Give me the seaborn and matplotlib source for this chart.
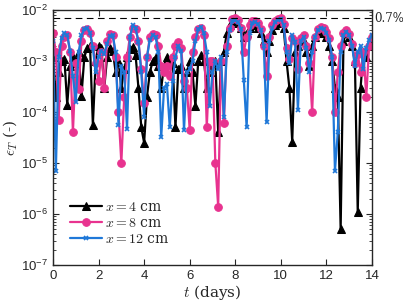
import numpy as np
import pandas as pd
import matplotlib
matplotlib.use("Agg")
import matplotlib.pyplot as plt
import seaborn as sns
from matplotlib.ticker import LogLocator, NullFormatter, FixedLocator

# time axis: 3-hourly samples over 14 days
t_days = np.arange(0, 14.001, 0.125)

eps_x4 = [1.2e-3, 2e-4, 6e-4, 1e-3, 1.1e-3, 1.4e-4, 8e-4, 1.2e-3,
          9e-4, 1.5e-3, 2.1e-4, 1.2e-3, 1.8e-3, 2e-3, 5.6e-5, 1e-3,
          2e-3, 1.8e-3, 3e-4, 1.2e-3, 1.8e-3, 1.6e-3, 6e-4, 1e-3,
          3e-4, 7e-4, 1.2e-3, 1.7e-3, 1.9e-3, 1.3e-3, 3e-4, 5e-5,
          2.5e-5, 2e-4, 6e-4, 1e-3, 1.2e-3, 8e-4, 3e-4, 8e-4,
          1.2e-3, 1e-3, 9e-4, 5e-5, 7e-4, 8e-4, 3e-4, 6e-4,
          1e-3, 6e-4, 1.3e-4, 1e-3, 1.3e-3, 1e-3, 3e-4, 6e-4,
          9e-4, 1e-3, 4e-5, 1e-3, 1.5e-3, 3.5e-3, 5e-3, 6e-3,
          6e-3, 5.5e-3, 4.5e-3, 3e-3, 3.5e-3, 4.5e-3, 5e-3, 5e-3,
          4.5e-3, 3.5e-3, 2.5e-3, 1.5e-3, 2.5e-3, 4e-3, 5e-3, 5.5e-3,
          5.8e-3, 4.5e-3, 1e-3, 3e-4, 2.6e-5, 1.5e-3, 2e-3, 2.5e-3,
          2.5e-3, 1.5e-3, 8e-4, 2e-3, 3e-3, 3.5e-3, 3.8e-3, 3.5e-3,
          3e-3, 2e-3, 1e-3, 3e-4, 2e-4, 5e-7, 2.5e-3, 3.5e-3,
          3e-3, 2e-3, 1e-3, 1.1e-6, 3e-4, 1.5e-3, 1.2e-3, 2e-3,
          2.5e-3]

eps_x8 = [3.6e-3, 1.5e-3, 7e-5, 2e-3, 3e-3, 3.3e-3, 1.5e-3, 4e-5,
          9e-4, 2.8e-4, 2.5e-3, 4e-3, 4.2e-3, 3.5e-3, 2e-3, 9e-4,
          4e-4, 1.5e-3, 3e-4, 2.5e-3, 3.4e-3, 3.3e-3, 1.2e-3, 1e-4,
          1e-5, 2e-4, 1.2e-3, 3e-3, 4.5e-3, 4.2e-3, 2.5e-3, 7e-4,
          1.5e-4, 1.2e-3, 3e-3, 3.4e-3, 3.2e-3, 2e-3, 8e-4, 6e-4,
          8e-4, 5e-4, 1.2e-3, 2e-3, 2.4e-3, 1.8e-3, 4e-4, 3e-4,
          4.5e-5, 1.5e-3, 3e-3, 4.2e-3, 4.5e-3, 3.2e-3, 5e-5, 1e-3,
          1e-3, 1e-5, 1.4e-6, 1e-3, 6e-5, 2e-3, 4.5e-3, 6.8e-3,
          7e-3, 6.3e-3, 4.5e-3, 1.5e-3, 3e-3, 5e-3, 6e-3, 6.2e-3,
          5.7e-3, 4.3e-3, 2e-3, 5e-4, 3e-3, 5e-3, 6e-3, 6.7e-3,
          7e-3, 5.3e-3, 1.8e-3, 1.1e-3, 2.8e-3, 2.5e-3, 7e-4, 2.8e-3,
          3.2e-3, 2e-3, 9e-4, 1e-4, 3e-3, 4.3e-3, 4.7e-3, 4.5e-3,
          3.8e-3, 2.8e-3, 1.2e-3, 1e-4, 6e-4, 2e-3, 3.5e-3, 4e-3,
          3.4e-3, 2.2e-3, 9e-4, 1.4e-3, 6e-4, 1.5e-3, 2e-4, 2e-3,
          3e-3]

eps_x12 = [2.5e-3, 7e-6, 1.2e-3, 2.8e-3, 3.5e-3, 3.2e-3, 1.6e-3, 5e-4,
           1.6e-4, 1.5e-3, 3.2e-3, 4.2e-3, 4.4e-3, 3.6e-3, 1.8e-3, 6e-4,
           1.2e-3, 1.6e-3, 1.4e-3, 2.2e-3, 3.1e-3, 3.2e-3, 1.5e-3, 5.6e-5,
           8e-4, 6e-4, 4.7e-5, 3e-3, 5e-3, 4.5e-3, 2.4e-3, 6e-4,
           8e-5, 1.2e-3, 2.6e-3, 3.2e-3, 3e-3, 1.5e-3, 3.2e-5, 3e-4,
           3.5e-4, 5e-5, 4e-4, 1.2e-3, 2e-3, 1.6e-3, 4.4e-5, 6e-4,
           7e-4, 1e-3, 2.5e-3, 4.2e-3, 4.7e-3, 3.5e-3, 1.5e-3, 1.3e-4,
           6e-4, 1e-3, 7e-4, 1.2e-3, 8e-5, 1.5e-3, 4e-3, 6.2e-3,
           6.3e-3, 5.8e-3, 4.2e-3, 4.2e-4, 5e-5, 3.5e-3, 5.6e-3, 5.8e-3,
           5.3e-3, 4e-3, 2e-3, 6.3e-5, 2.5e-3, 4.5e-3, 5.8e-3, 6.5e-3,
           6.8e-3, 5e-3, 1.5e-3, 9e-4, 3.2e-3, 2.4e-3, 1.1e-4, 2.5e-3,
           3e-3, 1.8e-3, 6e-4, 1.5e-3, 3e-3, 4e-3, 4.4e-3, 4.3e-3,
           3.6e-3, 2.6e-3, 1.2e-3, 7e-6, 4e-5, 1.5e-3, 3.2e-3, 3.8e-3,
           3.2e-3, 2e-3, 8e-4, 1.5e-3, 2e-3, 7e-4, 1.8e-3, 2.6e-3,
           3.2e-3]

series_labels = [r"$x = 4$ cm", r"$x = 8$ cm", r"$x = 12$ cm"]
threshold = 0.007
threshold_label = "0.7%"

sns.set_style("ticks")
plt.rcParams["mathtext.fontset"] = "cm"
plt.rcParams["font.family"] = ["Liberation Sans", "DejaVu Sans"]

fig = plt.figure(figsize=(4.03, 3.07), dpi=100)
ax = fig.add_axes([0.1315, 0.137, 0.7915, 0.830])

styles = [
    dict(color="#000000", marker="^", markersize=5.5, mec="#000000", mfc="#000000"),
    dict(color="#e8338f", marker="o", markersize=5.5, mec="#e8338f", mfc="#e8338f"),
    dict(color="#1f78d8", marker="x", markersize=3.5, mec="#1f78d8", mfc="#1f78d8", markeredgewidth=1.2),
]
for vals, lab, st in zip([eps_x4, eps_x8, eps_x12], series_labels, styles):
    df = pd.DataFrame({"t": t_days, "eps": vals})
    sns.lineplot(data=df, x="t", y="eps", ax=ax, label=lab, linewidth=1.6,
                 estimator=None, sort=False, **st)

ax.axhline(threshold, color="black", linestyle=(0, (6, 4)), linewidth=0.8)
ax.text(14.1, threshold, threshold_label, ha="left", va="center",
        fontsize=8.5, family="DejaVu Serif")

ax.set_yscale("log")
ax.set_xlim(0, 14)
ax.set_ylim(1e-7, 1e-2)
ax.set_xticks(np.arange(0, 15, 2))
ax.yaxis.set_major_locator(FixedLocator([1e-7, 1e-6, 1e-5, 1e-4, 1e-3, 1e-2]))
ax.yaxis.set_minor_locator(LogLocator(base=10, subs=np.arange(2, 10), numticks=20))
ax.yaxis.set_minor_formatter(NullFormatter())
ax.tick_params(axis="both", which="both", direction="in", top=True, right=True,
               labelsize=9.5, colors="#262626", labelcolor="#262626")
ax.tick_params(which="major", length=4, width=0.8)
ax.tick_params(which="minor", length=2, width=0.6)
for s in ax.spines.values():
    s.set_linewidth(1.0)
    s.set_color("#262626")

ax.set_xlabel(r"$t$ (days)", fontsize=11, labelpad=1, family="DejaVu Serif")
ax.set_ylabel(r"$\epsilon_T$ (-)", fontsize=11, labelpad=1, family="DejaVu Serif")
ax.yaxis.set_label_coords(-0.105, 0.5)

leg = ax.legend(loc="lower left", frameon=False, fontsize=10, handlelength=2.3,
                handletextpad=0.2, labelspacing=0.15, borderaxespad=0.4,
                bbox_to_anchor=(0.02, 0.03), prop={"family": "DejaVu Serif", "size": 10})

fig.savefig("out.png", dpi=100)
